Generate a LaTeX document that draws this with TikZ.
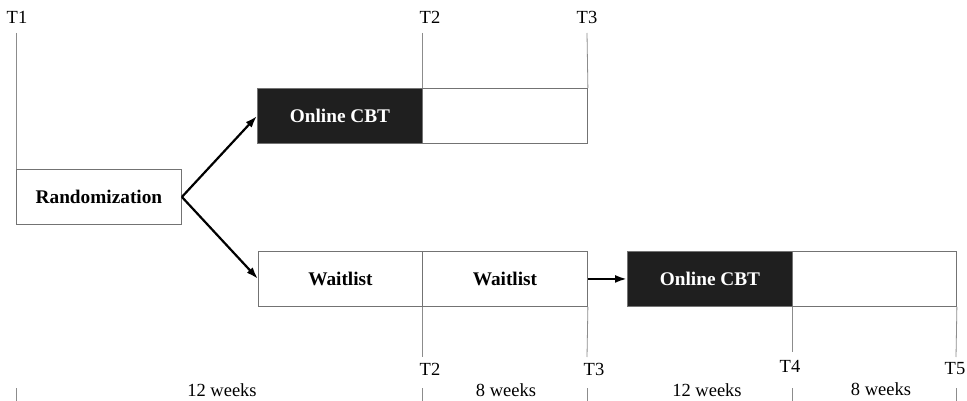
\documentclass[tikz,border=0pt]{standalone}
\usepackage{fontspec}
\setmainfont{Liberation Serif}
\usetikzlibrary{arrows.meta}
\begin{document}
\begin{tikzpicture}[x=1pt,y=-1pt,
  box/.style={draw=black!55,line width=0.9pt,minimum width=165pt,minimum height=55pt,inner sep=0pt,anchor=north west,font=\fontsize{19.3}{21}\selectfont\bfseries},
  dark/.style={box,fill=black!88,text=white},
  tl/.style={draw=black!45,line width=0.8pt},
  lbl/.style={font=\fontsize{18.5}{20}\selectfont,inner sep=0pt},
  arr/.style={line width=2.2pt,-{Latex[length=12pt,width=8pt]}}]
\useasboundingbox (0,0) rectangle (967,401);
% boxes
\node[box] (rand) at (16,169) {Randomization};
\node[dark] (cbt1) at (257,88) {Online CBT};
\node[box] (post1) at (422,88) {};
\node[box,minimum width=164pt] (wait1) at (258,251) {Waitlist};
\node[box] (wait2) at (422,251) {Waitlist};
\node[dark] (cbt2) at (627,251) {Online CBT};
\node[box,minimum width=164pt] (post2) at (792,251) {};
% top time labels
\node[lbl] (t1) at (17,17) {T1};
\node[lbl] (t2a) at (430,17) {T2};
\node[lbl] (t3a) at (587,17) {T3};
\draw[tl] (16,33) -- (rand.north west);
\draw[tl] (422,33) -- (post1.north west);
\draw[tl] (587,33) -- (post1.north east);
% arrows
\draw[arr] (rand.east) -- (cbt1.west);
\draw[arr] (rand.east) -- (wait1.west);
\draw[arr] (wait2.east) -- (cbt2.west);
% bottom time labels
\node[lbl] (t2b) at (430,369) {T2};
\node[lbl] (t3b) at (594,369) {T3};
\node[lbl] (t4) at (790,366) {T4};
\node[lbl] (t5) at (955,369) {T5};
\draw[tl] (wait2.south west) -- (422,357);
\draw[tl] (wait2.south east) -- (587,357);
\draw[tl] (post2.south west) -- (792,352);
\draw[tl] (post2.south east) -- (956,357);
% ticks
\foreach \x in {16,422,587,792,956} \draw[tl] (\x,388) -- (\x,401);
% durations
\node[lbl] (d1) at (222,390) {12 weeks};
\node[lbl] (d2) at (506,390) {8 weeks};
\node[lbl] (d3) at (707,390) {12 weeks};
\node[lbl] (d4) at (881,389) {8 weeks};
\end{tikzpicture}
\end{document}
